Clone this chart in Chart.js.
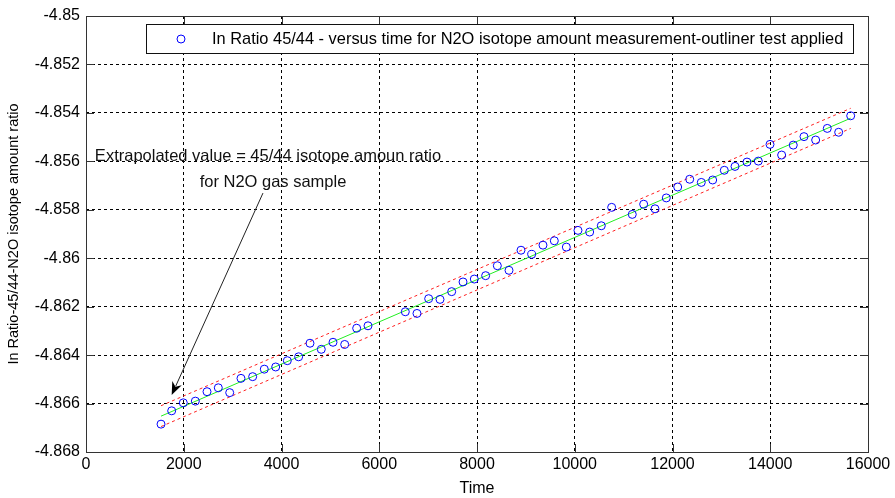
<!DOCTYPE html>
<html>
<head>
<meta charset="utf-8">
<script src="https://cdn.jsdelivr.net/npm/chart.js@4/dist/chart.umd.min.js"></script>
<style>
  html, body { margin: 0; padding: 0; background: #fff; }
  #wrap { width: 895px; height: 498px; }
</style>
</head>
<body>
<div id="wrap"><canvas id="myChart" width="895" height="498"></canvas></div>
<script>
// measured points (time, ln ratio)
var timeValues = [1535, 1753, 1991, 2237, 2476, 2707, 2940, 3171, 3410, 3648,
  3881, 4119, 4351, 4583, 4814, 5054, 5293, 5538, 5770, 6533,
  6772, 7011, 7243, 7482, 7714, 7945, 8177, 8416, 8655, 8900,
  9118, 9350, 9582, 9828, 10066, 10305, 10543, 10755, 11177, 11410,
  11642, 11873, 12106, 12352, 12589, 12822, 13060, 13279, 13524, 13756,
  13995, 14233, 14471, 14690, 14929, 15167, 15400, 15646];
var ratioValues = [-4.86685, -4.86630, -4.86597, -4.86590, -4.86551, -4.86535, -4.86555, -4.86496, -4.86489, -4.86458,
  -4.86449, -4.86423, -4.86407, -4.86351, -4.86376, -4.86347, -4.86356, -4.86289, -4.86279, -4.86221,
  -4.86228, -4.86167, -4.86170, -4.86138, -4.86098, -4.86086, -4.86072, -4.86031, -4.86050, -4.85967,
  -4.85984, -4.85946, -4.85928, -4.85954, -4.85885, -4.85892, -4.85866, -4.85790, -4.85819, -4.85777,
  -4.85796, -4.85751, -4.85706, -4.85674, -4.85687, -4.85677, -4.85637, -4.85621, -4.85603, -4.85599,
  -4.85530, -4.85574, -4.85533, -4.85498, -4.85512, -4.85464, -4.85480, -4.85412];

// fit line and band ends
var fitTime = [1535, 15646];
var fitRatio = [-4.86652, -4.85422];
var upperRatio = [-4.86609, -4.85381];
var lowerRatio = [-4.86695, -4.85464];

var xTicks = [0, 2000, 4000, 6000, 8000, 10000, 12000, 14000, 16000];
var yTicks = [-4.85, -4.852, -4.854, -4.856, -4.858, -4.86, -4.862, -4.864, -4.866, -4.868];
var yTickLabels = ["-4.85", "-4.852", "-4.854", "-4.856", "-4.858", "-4.86", "-4.862", "-4.864", "-4.866", "-4.868"];

var legendText = "In Ratio 45/44 - versus time for N2O isotope amount measurement-outliner test applied";
var noteLines = ["Extrapolated value = 45/44 isotope amoun ratio", "for N2O gas sample"];
var notePos = [3724, -4.85574];   // centre of first text line
var arrowFrom = [3621, -4.85731];
var arrowTo = [1753, -4.86565];

function pairs(xs, ys) {
  var out = [];
  for (var i = 0; i < xs.length; i++) out.push({ x: xs[i], y: ys[i] });
  return out;
}

var FONT = "'Liberation Sans', Arial, Helvetica, sans-serif";

var boxPlugin = {
  id: "boxPlugin",
  afterDraw: function (chart) {
    var ctx = chart.ctx;
    var a = chart.chartArea;
    var xs = chart.scales.x, ys = chart.scales.y;
    ctx.save();
    // axes box
    ctx.strokeStyle = "#333";
    ctx.lineWidth = 1;
    ctx.setLineDash([]);
    ctx.strokeRect(Math.round(a.left) + 0.5, Math.round(a.top) + 0.5,
      Math.round(a.right - a.left), Math.round(a.bottom - a.top));
    // inward ticks on all sides
    ctx.beginPath();
    xTicks.forEach(function (v) {
      var px = Math.round(xs.getPixelForValue(v)) + 0.5;
      ctx.moveTo(px, a.bottom); ctx.lineTo(px, a.bottom - 8);
      ctx.moveTo(px, a.top); ctx.lineTo(px, a.top + 8);
    });
    yTicks.forEach(function (v) {
      var py = Math.round(ys.getPixelForValue(v)) + 0.5;
      ctx.moveTo(a.left, py); ctx.lineTo(a.left + 8, py);
      ctx.moveTo(a.right, py); ctx.lineTo(a.right - 8, py);
    });
    ctx.stroke();

    // legend box
    var lx = 146, ly = 24, lw = 707, lh = 29;
    ctx.fillStyle = "#fff";
    ctx.fillRect(lx, ly, lw, lh);
    ctx.strokeStyle = "#111";
    ctx.strokeRect(lx + 0.5, ly + 0.5, lw, lh);
    ctx.strokeStyle = "#0000ff";
    ctx.beginPath();
    ctx.arc(181, ly + lh / 2 + 0.5, 4, 0, Math.PI * 2);
    ctx.stroke();
    ctx.fillStyle = "#000";
    ctx.font = "16.4px " + FONT;
    ctx.textBaseline = "middle";
    ctx.textAlign = "left";
    ctx.fillText(legendText, 212, ly + lh / 2 + 1);

    // annotation
    var nx = xs.getPixelForValue(notePos[0]);
    var ny = ys.getPixelForValue(notePos[1]);
    ctx.font = "16.5px " + FONT;
    ctx.textAlign = "center";
    ctx.fillStyle = "#111";
    ctx.fillText(noteLines[0], nx, ny + 1);
    ctx.fillText(noteLines[1], nx + 5, ny + 27);

    var x1 = xs.getPixelForValue(arrowFrom[0]), y1 = ys.getPixelForValue(arrowFrom[1]);
    var x2 = xs.getPixelForValue(arrowTo[0]), y2 = ys.getPixelForValue(arrowTo[1]);
    var ang = Math.atan2(y2 - y1, x2 - x1);
    var hl = 14, hw = 0.38;
    ctx.strokeStyle = "#222";
    ctx.lineWidth = 1;
    ctx.beginPath();
    ctx.moveTo(x1, y1);
    ctx.lineTo(x2 - Math.cos(ang) * hl * 0.7, y2 - Math.sin(ang) * hl * 0.7);
    ctx.stroke();
    ctx.fillStyle = "#000";
    ctx.beginPath();
    ctx.moveTo(x2, y2);
    ctx.lineTo(x2 - hl * Math.cos(ang - hw), y2 - hl * Math.sin(ang - hw));
    ctx.lineTo(x2 - hl * 0.65 * Math.cos(ang), y2 - hl * 0.65 * Math.sin(ang));
    ctx.lineTo(x2 - hl * Math.cos(ang + hw), y2 - hl * Math.sin(ang + hw));
    ctx.closePath();
    ctx.fill();
    ctx.restore();
  }
};

var ctx = document.getElementById("myChart");

var config = {
  type: "scatter",
  data: {
    datasets: [
      {
        label: "points",
        data: pairs(timeValues, ratioValues),
        showLine: false,
        pointStyle: "circle",
        pointRadius: 4,
        pointBorderWidth: 1,
        pointBorderColor: "#0000ff",
        pointBackgroundColor: "rgba(0,0,0,0)",
        order: 1,
      },
      {
        label: "fit",
        data: pairs(fitTime, fitRatio),
        showLine: true,
        pointRadius: 0,
        borderColor: "#22ee22",
        borderWidth: 1,
        order: 2,
      },
      {
        label: "upper",
        data: pairs(fitTime, upperRatio),
        showLine: true,
        pointRadius: 0,
        borderColor: "#ff2020",
        borderWidth: 1,
        borderDash: [3, 3],
        order: 3,
      },
      {
        label: "lower",
        data: pairs(fitTime, lowerRatio),
        showLine: true,
        pointRadius: 0,
        borderColor: "#ff2020",
        borderWidth: 1,
        borderDash: [3, 3],
        order: 3,
      },
    ],
  },
  options: {
    responsive: false,
    animation: false,
    layout: { padding: { left: 0, right: 27, top: 16, bottom: 0 } },
    plugins: {
      legend: { display: false },
      tooltip: { enabled: false },
    },
    scales: {
      x: {
        type: "linear",
        min: 0,
        max: 16000,
        afterBuildTicks: function (scale) {
          scale.ticks = xTicks.map(function (v) { return { value: v }; });
        },
        afterFit: function (scale) { scale.height = 46; },
        ticks: {
          color: "#000",
          font: { family: FONT, size: 16 },
          padding: 3,
          maxRotation: 0,
          callback: function (v) { return String(v); },
        },
        grid: { color: "#000", lineWidth: 1, drawTicks: false },
        border: { display: false, dash: [3, 3] },
        title: {
          display: true,
          text: "Time",
          color: "#000",
          font: { family: FONT, size: 16 },
          padding: { top: 0, bottom: 0 },
        },
      },
      y: {
        type: "linear",
        min: -4.868,
        max: -4.85,
        afterBuildTicks: function (scale) {
          scale.ticks = yTicks.map(function (v) { return { value: v }; });
        },
        afterFit: function (scale) { scale.width = 86; },
        ticks: {
          color: "#000",
          font: { family: FONT, size: 16 },
          padding: 6,
          callback: function (v) {
            for (var i = 0; i < yTicks.length; i++) {
              if (Math.abs(yTicks[i] - v) < 1e-7) return yTickLabels[i];
            }
            return "";
          },
        },
        grid: { color: "#000", lineWidth: 1, drawTicks: false },
        border: { display: false, dash: [3, 3] },
        title: {
          display: true,
          text: "In Ratio-45/44-N2O isotope amount ratio",
          color: "#000",
          font: { family: FONT, size: 14.5 },
          padding: { top: 5, bottom: 0 },
        },
      },
    },
  },
  plugins: [boxPlugin],
};

var chart = new Chart(ctx, config);
</script>
</body>
</html>
